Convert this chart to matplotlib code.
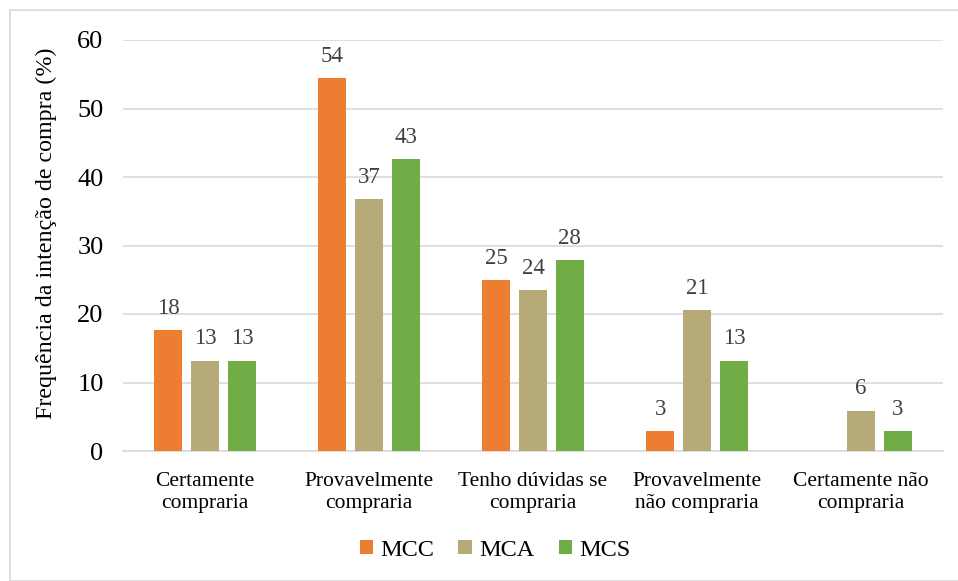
import matplotlib.pyplot as plt
import numpy as np
from matplotlib.patches import Rectangle

plt.rcParams["font.family"] = ["Liberation Serif", "DejaVu Serif"]

categories = ["Certamente\ncompraria", "Provavelmente\ncompraria",
              "Tenho dúvidas se\ncompraria", "Provavelmente\nnão compraria",
              "Certamente não\ncompraria"]
series = ["MCC", "MCA", "MCS"]
mcc = [17.6, 54.4, 25.0, 2.9, 0.0]
mca = [13.2, 36.8, 23.5, 20.6, 5.9]
mcs = [13.2, 42.6, 27.9, 13.2, 2.9]
labels_mcc = ["18", "54", "25", "3", ""]
labels_mca = ["13", "37", "24", "21", "6"]
labels_mcs = ["13", "43", "28", "13", "3"]
colors = ["#ED7D31", "#B5AA78", "#70AD47"]

fig = plt.figure(figsize=(9.58, 5.81), dpi=100)
fig.patches.append(Rectangle((10 / 958, 0), 1.0, 1 - 10 / 581, transform=fig.transFigure,
                             fill=False, edgecolor="#d9d9d9", linewidth=1.2))
ax = fig.add_axes([123 / 958, 1 - 451 / 581, (943 - 123) / 958, (451 - 40) / 581])

x = np.arange(len(categories))
w = 0.17
off = 0.225
for i, (vals, labs) in enumerate([(mcc, labels_mcc), (mca, labels_mca), (mcs, labels_mcs)]):
    bars = ax.bar(x + (i - 1) * off, vals, w, color=colors[i], label=series[i], zorder=3)
    ax.bar_label(bars, labels=labs, padding=8, fontsize=16.5, color="#404040")

ax.set_xlim(-0.5, len(categories) - 0.5)
ax.set_ylim(0, 60)
ax.set_yticks(range(0, 61, 10))
ax.grid(axis="y", color="#d9d9d9", linewidth=1.2, zorder=0)
for s in ["top", "right", "left"]:
    ax.spines[s].set_visible(False)
ax.spines["bottom"].set_color("#d9d9d9")
ax.spines["bottom"].set_linewidth(1.2)
ax.tick_params(length=0, colors="black")
ax.tick_params(axis="y", pad=14, labelsize=19)
ax.tick_params(axis="x", pad=15, labelsize=15.5)
ax.set_xticks(x)
ax.set_xticklabels(categories, linespacing=1.2)
ax.set_ylabel("Frequência da intenção de compra (%)", fontsize=17.3)
ax.yaxis.set_label_coords(-0.08, 0.53)

fig.legend(loc="center", bbox_to_anchor=(495 / 958, 1 - 550 / 581), ncol=3, frameon=False,
           fontsize=17.5, handlelength=0.55, handleheight=0.55, handletextpad=0.3,
           columnspacing=1.0)

fig.savefig("out.png", dpi=100)
